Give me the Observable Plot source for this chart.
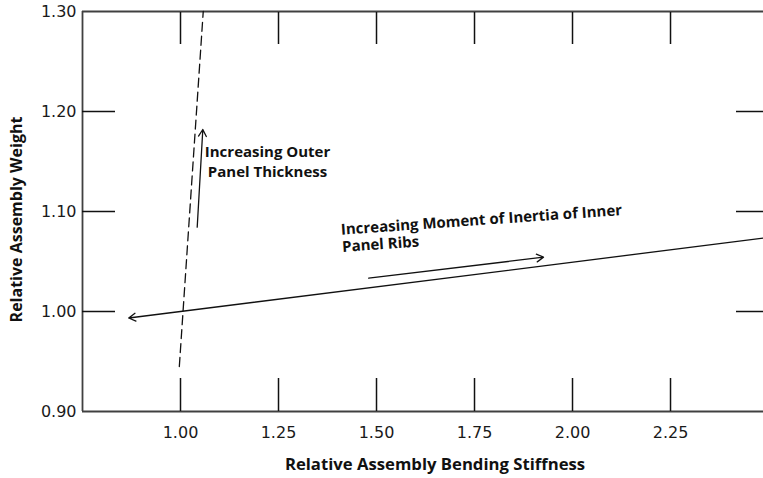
<!DOCTYPE html>
<html><head><meta charset="utf-8">
<script src="https://cdn.jsdelivr.net/npm/d3@7"></script>
<script src="https://cdn.jsdelivr.net/npm/@observablehq/plot@0.6"></script>
<style>body{margin:0;background:#fff}</style>
</head><body><div id="chart"></div>
<script>
// ---- data ----
const xTicks = [1.00, 1.25, 1.50, 1.75, 2.00, 2.25];
const yTicks = [0.90, 1.00, 1.10, 1.20, 1.30];
const yInnerTicks = [1.00, 1.10, 1.20];
const xDomain = [0.75, 2.4872];
const yDomain = [0.90, 1.30];
const xLabel = ["Relative Assembly Bending Stiffness"];
const yLabel = ["Relative Assembly Weight"];
// solid line (moment of inertia of inner panel ribs), arrow head at low end
const ribsLine = [{x1: 2.49, y1: 1.0735, x2: 0.868, y2: 0.9935}];
// dashed line (outer panel thickness)
const thicknessLine = [{x: 0.997, y: 0.945}, {x: 1.058, y: 1.30}];
// direction arrows
const thicknessArrow = [{x1: 1.0426, y1: 1.0843, x2: 1.0569, y2: 1.182}];
const ribsArrow = [{x1: 1.480, y1: 1.0333, x2: 1.926, y2: 1.0543}];
// annotations
const noteThickness = [{x: 1.222, y: 1.151, text: "Increasing Outer\nPanel Thickness"}];
const noteRibs = [{x: 1.408, y: 1.089, text: "Increasing Moment of Inertia of Inner\nPanel Ribs"}];

const FONT = "Open Sans";
const TICKFONT = "DejaVu Sans";
const INK = "#111";
const fmt = d3.format(".2f");

const chart = Plot.plot({
  width: 763,
  height: 478,
  marginLeft: 82,
  marginRight: 0,
  marginTop: 11,
  marginBottom: 67,
  style: {fontFamily: FONT, fontSize: "16px", background: "#fff"},
  x: {domain: xDomain},
  y: {domain: yDomain},
  marks: [
    // frame lines
    Plot.ruleX(xDomain.slice(0, 1), {stroke: "#404040", strokeWidth: 1.8}),
    Plot.ruleY(yDomain, {stroke: "#404040", strokeWidth: 1.8}),
    // tick labels
    Plot.text(xTicks, {x: d => d, frameAnchor: "bottom", dy: 21, text: fmt, textAnchor: "middle", lineAnchor: "middle", fontFamily: TICKFONT, fontSize: 16, fill: "#1a1a1a"}),
    Plot.text(yTicks, {y: d => d, frameAnchor: "left", dx: -6, text: fmt, textAnchor: "end", lineAnchor: "middle", fontFamily: TICKFONT, fontSize: 16, fill: "#1a1a1a"}),
    // inward ticks
    Plot.axisX({anchor: "bottom", ticks: xTicks, tickSize: -33, tickFormat: () => "", label: null, stroke: INK, strokeWidth: 1.5, strokeOpacity: 1}),
    Plot.axisX({anchor: "top", ticks: xTicks, tickSize: -32, tickFormat: () => "", label: null, stroke: INK, strokeWidth: 1.5, strokeOpacity: 1}),
    Plot.axisY({anchor: "left", ticks: yInnerTicks, tickSize: -33, tickFormat: () => "", label: null, stroke: INK, strokeWidth: 1.5, strokeOpacity: 1}),
    Plot.axisY({anchor: "right", ticks: yInnerTicks, tickSize: -28, tickFormat: () => "", label: null, stroke: INK, strokeWidth: 1.5, strokeOpacity: 1}),
    // data lines
    Plot.line(thicknessLine, {x: "x", y: "y", stroke: INK, strokeWidth: 1.3, strokeDasharray: "9,5"}),
    Plot.arrow(ribsLine, {x1: "x1", y1: "y1", x2: "x2", y2: "y2", stroke: INK, strokeWidth: 1.3, headLength: 9, clip: true}),
    Plot.arrow(thicknessArrow, {x1: "x1", y1: "y1", x2: "x2", y2: "y2", stroke: INK, strokeWidth: 1.3, headLength: 9}),
    Plot.arrow(ribsArrow, {x1: "x1", y1: "y1", x2: "x2", y2: "y2", stroke: INK, strokeWidth: 1.3, headLength: 9}),
    // annotations
    Plot.text(noteThickness, {x: "x", y: "y", text: "text", textAnchor: "middle", lineAnchor: "middle", lineHeight: 1.35, fontSize: 15, fontWeight: "bold", fill: INK}),
    Plot.text(noteRibs, {x: "x", y: "y", text: "text", textAnchor: "start", lineAnchor: "top", lineHeight: 1.15, rotate: -4, fontSize: 15, fontWeight: "bold", fill: INK}),
    // axis titles
    Plot.text(xLabel, {frameAnchor: "bottom", dx: 12, dy: 53, textAnchor: "middle", lineAnchor: "middle", fontSize: 16.7, fontWeight: "bold", fill: INK}),
    Plot.text(yLabel, {frameAnchor: "left", dx: -66, dy: 8, rotate: -90, textAnchor: "middle", lineAnchor: "middle", fontSize: 16, fontWeight: "bold", fill: INK})
  ]
});
document.getElementById("chart").append(chart);
</script>
</body></html>
